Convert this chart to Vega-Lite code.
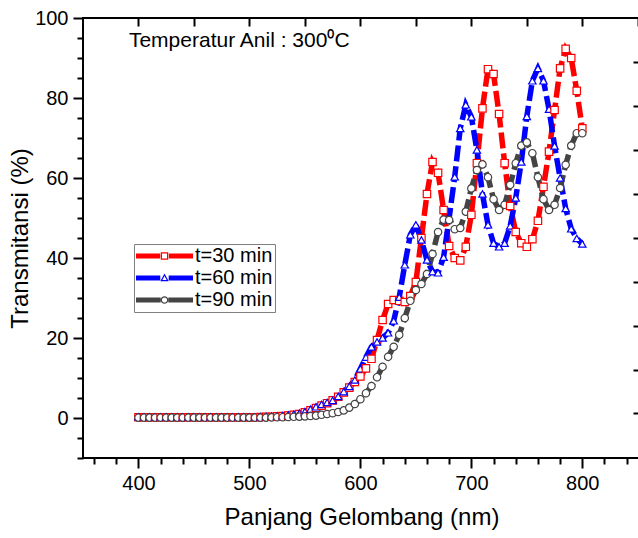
{
"$schema": "https://vega.github.io/schema/vega-lite/v6.json",
"width": 557, "height": 440,
"autosize": {"type": "none"},
"padding": {"left": 83, "top": 18, "right": 0, "bottom": 80},
"background": "white",
"config": {
  "font": "Liberation Sans",
  "view": {"stroke": "#000000", "strokeWidth": 2},
  "axis": {"domain": false, "grid": false, "tickColor": "#000000", "tickWidth": 2, "labelColor": "#000000", "labelFontSize": 20, "labelFont": "Liberation Sans", "titleFont": "Liberation Sans", "titleFontSize": 24, "titleFontWeight": "normal", "titleColor": "#000000"}
},
"data": {"values": [
{"nm":400,"t=30 min":0.2,"t=60 min":0.3,"t=90 min":0.1},
{"nm":405,"t=30 min":0.2,"t=60 min":0.3,"t=90 min":0.1},
{"nm":410,"t=30 min":0.2,"t=60 min":0.3,"t=90 min":0.1},
{"nm":415,"t=30 min":0.2,"t=60 min":0.3,"t=90 min":0.1},
{"nm":420,"t=30 min":0.2,"t=60 min":0.3,"t=90 min":0.1},
{"nm":425,"t=30 min":0.2,"t=60 min":0.3,"t=90 min":0.1},
{"nm":430,"t=30 min":0.2,"t=60 min":0.3,"t=90 min":0.1},
{"nm":435,"t=30 min":0.2,"t=60 min":0.3,"t=90 min":0.1},
{"nm":440,"t=30 min":0.2,"t=60 min":0.3,"t=90 min":0.1},
{"nm":445,"t=30 min":0.2,"t=60 min":0.3,"t=90 min":0.1},
{"nm":450,"t=30 min":0.2,"t=60 min":0.3,"t=90 min":0.1},
{"nm":455,"t=30 min":0.2,"t=60 min":0.3,"t=90 min":0.1},
{"nm":460,"t=30 min":0.2,"t=60 min":0.3,"t=90 min":0.1},
{"nm":465,"t=30 min":0.2,"t=60 min":0.3,"t=90 min":0.1},
{"nm":470,"t=30 min":0.2,"t=60 min":0.3,"t=90 min":0.1},
{"nm":475,"t=30 min":0.2,"t=60 min":0.3,"t=90 min":0.1},
{"nm":480,"t=30 min":0.2,"t=60 min":0.3,"t=90 min":0.1},
{"nm":485,"t=30 min":0.2,"t=60 min":0.3,"t=90 min":0.1},
{"nm":490,"t=30 min":0.2,"t=60 min":0.3,"t=90 min":0.1},
{"nm":495,"t=30 min":0.2,"t=60 min":0.3,"t=90 min":0.1},
{"nm":500,"t=30 min":0.2,"t=60 min":0.3,"t=90 min":0.1},
{"nm":505,"t=30 min":0.2,"t=60 min":0.3,"t=90 min":0.1},
{"nm":510,"t=30 min":0.25,"t=60 min":0.35,"t=90 min":0.1},
{"nm":515,"t=30 min":0.3,"t=60 min":0.4,"t=90 min":0.1},
{"nm":520,"t=30 min":0.3,"t=60 min":0.45,"t=90 min":0.15},
{"nm":525,"t=30 min":0.4,"t=60 min":0.5,"t=90 min":0.2},
{"nm":530,"t=30 min":0.5,"t=60 min":0.6,"t=90 min":0.2},
{"nm":535,"t=30 min":0.6,"t=60 min":0.75,"t=90 min":0.25},
{"nm":540,"t=30 min":0.8,"t=60 min":0.95,"t=90 min":0.3},
{"nm":545,"t=30 min":1.0,"t=60 min":1.2,"t=90 min":0.35},
{"nm":550,"t=30 min":1.4,"t=60 min":1.6,"t=90 min":0.4},
{"nm":555,"t=30 min":1.9,"t=60 min":2.2,"t=90 min":0.5},
{"nm":560,"t=30 min":2.5,"t=60 min":2.8,"t=90 min":0.6},
{"nm":565,"t=30 min":3.1,"t=60 min":3.4,"t=90 min":0.8},
{"nm":570,"t=30 min":3.7,"t=60 min":3.9,"t=90 min":1.0},
{"nm":575,"t=30 min":4.4,"t=60 min":4.4,"t=90 min":1.2},
{"nm":580,"t=30 min":5.3,"t=60 min":5.4,"t=90 min":1.5},
{"nm":585,"t=30 min":6.4,"t=60 min":6.6,"t=90 min":1.9},
{"nm":590,"t=30 min":7.6,"t=60 min":7.9,"t=90 min":2.6},
{"nm":595,"t=30 min":9.0,"t=60 min":9.5,"t=90 min":3.5},
{"nm":600,"t=30 min":10.4,"t=60 min":12.3,"t=90 min":4.7},
{"nm":605,"t=30 min":12.4,"t=60 min":15.2,"t=90 min":6.2},
{"nm":610,"t=30 min":14.8,"t=60 min":17.8,"t=90 min":8.0},
{"nm":615,"t=30 min":19.5,"t=60 min":19.0,"t=90 min":10.2},
{"nm":620,"t=30 min":24.5,"t=60 min":20.0,"t=90 min":12.8},
{"nm":625,"t=30 min":28.5,"t=60 min":21.3,"t=90 min":15.3},
{"nm":630,"t=30 min":29.5,"t=60 min":24.3,"t=90 min":17.8},
{"nm":635,"t=30 min":29.3,"t=60 min":30.2,"t=90 min":20.8},
{"nm":640,"t=30 min":29.0,"t=60 min":38.3,"t=90 min":25.0},
{"nm":645,"t=30 min":30.5,"t=60 min":45.8,"t=90 min":29.3},
{"nm":650,"t=30 min":34.0,"t=60 min":48.3,"t=90 min":32.0},
{"nm":655,"t=30 min":45.0,"t=60 min":44.5,"t=90 min":33.5},
{"nm":660,"t=30 min":56.0,"t=60 min":39.5,"t=90 min":36.0},
{"nm":665,"t=30 min":64.0,"t=60 min":36.6,"t=90 min":41.0},
{"nm":670,"t=30 min":61.3,"t=60 min":36.3,"t=90 min":46.5},
{"nm":675,"t=30 min":52.0,"t=60 min":40.2,"t=90 min":49.6},
{"nm":680,"t=30 min":43.0,"t=60 min":50.0,"t=90 min":49.5},
{"nm":685,"t=30 min":40.0,"t=60 min":60.3,"t=90 min":47.2},
{"nm":690,"t=30 min":39.4,"t=60 min":72.4,"t=90 min":47.5},
{"nm":695,"t=30 min":42.8,"t=60 min":78.3,"t=90 min":51.6},
{"nm":700,"t=30 min":50.8,"t=60 min":75.3,"t=90 min":57.4},
{"nm":705,"t=30 min":63.7,"t=60 min":67.0,"t=90 min":62.0},
{"nm":710,"t=30 min":77.4,"t=60 min":56.0,"t=90 min":63.4},
{"nm":715,"t=30 min":87.2,"t=60 min":48.3,"t=90 min":60.2},
{"nm":720,"t=30 min":86.0,"t=60 min":43.7,"t=90 min":54.7},
{"nm":725,"t=30 min":76.0,"t=60 min":42.8,"t=90 min":52.0},
{"nm":730,"t=30 min":63.7,"t=60 min":43.7,"t=90 min":53.3},
{"nm":735,"t=30 min":53.0,"t=60 min":48.0,"t=90 min":58.3},
{"nm":740,"t=30 min":46.5,"t=60 min":55.0,"t=90 min":63.7},
{"nm":745,"t=30 min":43.7,"t=60 min":64.0,"t=90 min":68.1},
{"nm":750,"t=30 min":42.8,"t=60 min":75.4,"t=90 min":68.9},
{"nm":755,"t=30 min":44.7,"t=60 min":84.3,"t=90 min":66.2},
{"nm":760,"t=30 min":49.3,"t=60 min":87.4,"t=90 min":60.2},
{"nm":765,"t=30 min":57.8,"t=60 min":84.3,"t=90 min":54.7},
{"nm":770,"t=30 min":66.6,"t=60 min":77.2,"t=90 min":52.0},
{"nm":775,"t=30 min":77.0,"t=60 min":68.0,"t=90 min":53.3},
{"nm":780,"t=30 min":87.4,"t=60 min":60.0,"t=90 min":57.5},
{"nm":785,"t=30 min":92.3,"t=60 min":52.4,"t=90 min":63.3},
{"nm":790,"t=30 min":90.0,"t=60 min":47.3,"t=90 min":68.1},
{"nm":795,"t=30 min":81.8,"t=60 min":44.9,"t=90 min":71.2},
{"nm":800,"t=30 min":72.4,"t=60 min":43.5,"t=90 min":71.2}
]},
"transform": [{"fold": ["t=30 min", "t=60 min", "t=90 min"], "as": ["series", "T"]}],
"layer": [
  {
    "mark": {"type": "line", "strokeWidth": 5.5, "strokeDash": [16, 5], "strokeCap": "butt", "interpolate": "linear"},
    "encoding": {
      "x": {"field": "nm", "type": "quantitative", "scale": {"domain": [350, 852], "nice": false, "zero": false},
            "axis": {"orient": "bottom", "values": [400, 500, 600, 700, 800], "title": "Panjang Gelombang (nm)", "tickSize": 10, "labelPadding": 5, "titlePadding": 12}},
      "y": {"field": "T", "type": "quantitative", "scale": {"domain": [-10, 100], "nice": false, "zero": false},
            "axis": {"orient": "left", "values": [0, 20, 40, 60, 80, 100], "title": "Transmitansi (%)", "tickSize": 10, "labelPadding": 5, "titlePadding": 2}},
      "stroke": {"field": "series", "type": "nominal", "scale": {"domain": ["t=30 min", "t=60 min", "t=90 min"], "range": ["#ff0000", "#0000ff", "#444444"]}, "legend": null}
    }
  },
  {
    "mark": {"type": "point", "filled": false, "fill": "#ffffff", "fillOpacity": 1, "size": 55, "strokeWidth": 1.2, "opacity": 1},
    "encoding": {
      "x": {"field": "nm", "type": "quantitative",
            "axis": {"orient": "bottom", "values": [360, 380, 420, 440, 460, 480, 520, 540, 560, 580, 620, 640, 660, 680, 720, 740, 760, 780, 820, 840], "labels": false, "title": null, "tickSize": 6}},
      "y": {"field": "T", "type": "quantitative",
            "axis": {"orient": "left", "values": [-10, -5, 5, 10, 15, 25, 30, 35, 45, 50, 55, 65, 70, 75, 85, 90, 95], "labels": false, "title": null, "tickSize": 6}},
      "stroke": {"field": "series", "type": "nominal", "legend": null},
      "shape": {"field": "series", "type": "nominal", "scale": {"domain": ["t=30 min", "t=60 min", "t=90 min"], "range": ["square", "triangle-up", "circle"]}, "legend": null}
    }
  },
  {
    "transform": [{"filter": "false"}],
    "mark": {"type": "point", "filled": true, "strokeWidth": 0, "opacity": 1},
    "encoding": {
      "x": {"field": "nm", "type": "quantitative",
            "axis": {"orient": "top", "values": [400, 450, 500, 550, 600, 650, 700, 750, 800, 850], "labels": false, "title": null, "tickSize": -8}},
      "y": {"field": "T", "type": "quantitative",
            "axis": {"orient": "right", "values": [1.2, 12, 23, 33.9, 45, 56, 67, 78, 89.1], "labels": false, "title": null, "tickSize": -7}},
      "shape": {"field": "series", "type": "nominal",
                "scale": {"domain": ["t=30 min", "t=60 min", "t=90 min"], "range": [
                  "M-1,-0.25H1.42V0.25H-1Z M2.28,-0.25H4.7V0.25H2.28Z M1.48,-0.37H2.22V0.37H1.48Z M1.6,-0.25V0.25H2.1V-0.25Z",
                  "M-1,-0.25H1.43V0.25H-1Z M2.27,-0.25H4.7V0.25H2.27Z M1.85,-0.45L2.27,0.32L1.43,0.32Z M1.85,-0.2L1.635,0.2L2.065,0.2Z",
                  "M-1,-0.25H1.47V0.25H-1Z M2.23,-0.25H4.7V0.25H2.23Z M1.47,0A0.38,0.38 0 1,1 2.23,0A0.38,0.38 0 1,1 1.47,0Z M1.59,0A0.26,0.26 0 1,0 2.11,0A0.26,0.26 0 1,0 1.59,0Z"]},
                "legend": {"orient": "none", "legendX": 51, "legendY": 226, "title": null, "padding": 2, "strokeColor": "#808080", "fillColor": "#ffffff", "symbolSize": 400, "symbolStrokeWidth": 0, "symbolOpacity": 1, "labelFontSize": 20, "labelFont": "Liberation Sans", "labelColor": "#000000", "labelOffset": 39, "rowPadding": 2}},
      "color": {"field": "series", "type": "nominal",
                "scale": {"domain": ["t=30 min", "t=60 min", "t=90 min"], "range": ["#ff0000", "#0000ff", "#444444"]},
                "legend": {"orient": "none", "legendX": 51, "legendY": 226, "title": null, "padding": 2, "strokeColor": "#808080", "fillColor": "#ffffff", "symbolSize": 400, "symbolStrokeWidth": 0, "symbolOpacity": 1, "labelFontSize": 20, "labelFont": "Liberation Sans", "labelColor": "#000000", "labelOffset": 39, "rowPadding": 2}}
    }
  },
  {
    "data": {"values": [{"label": "Temperatur Anil : 300⁰C", "nm": 391.4, "T": 92.8}]},
    "mark": {"type": "text", "align": "left", "baseline": "alphabetic", "fontSize": 21, "font": "Liberation Sans", "color": "#000000"},
    "encoding": {
      "x": {"field": "nm", "type": "quantitative", "axis": null},
      "y": {"field": "T", "type": "quantitative", "axis": null},
      "text": {"field": "label", "type": "nominal"}
    }
  }
],
"resolve": {"scale": {"shape": "independent", "color": "independent"}, "axis": {"x": "independent", "y": "independent"}}
}
